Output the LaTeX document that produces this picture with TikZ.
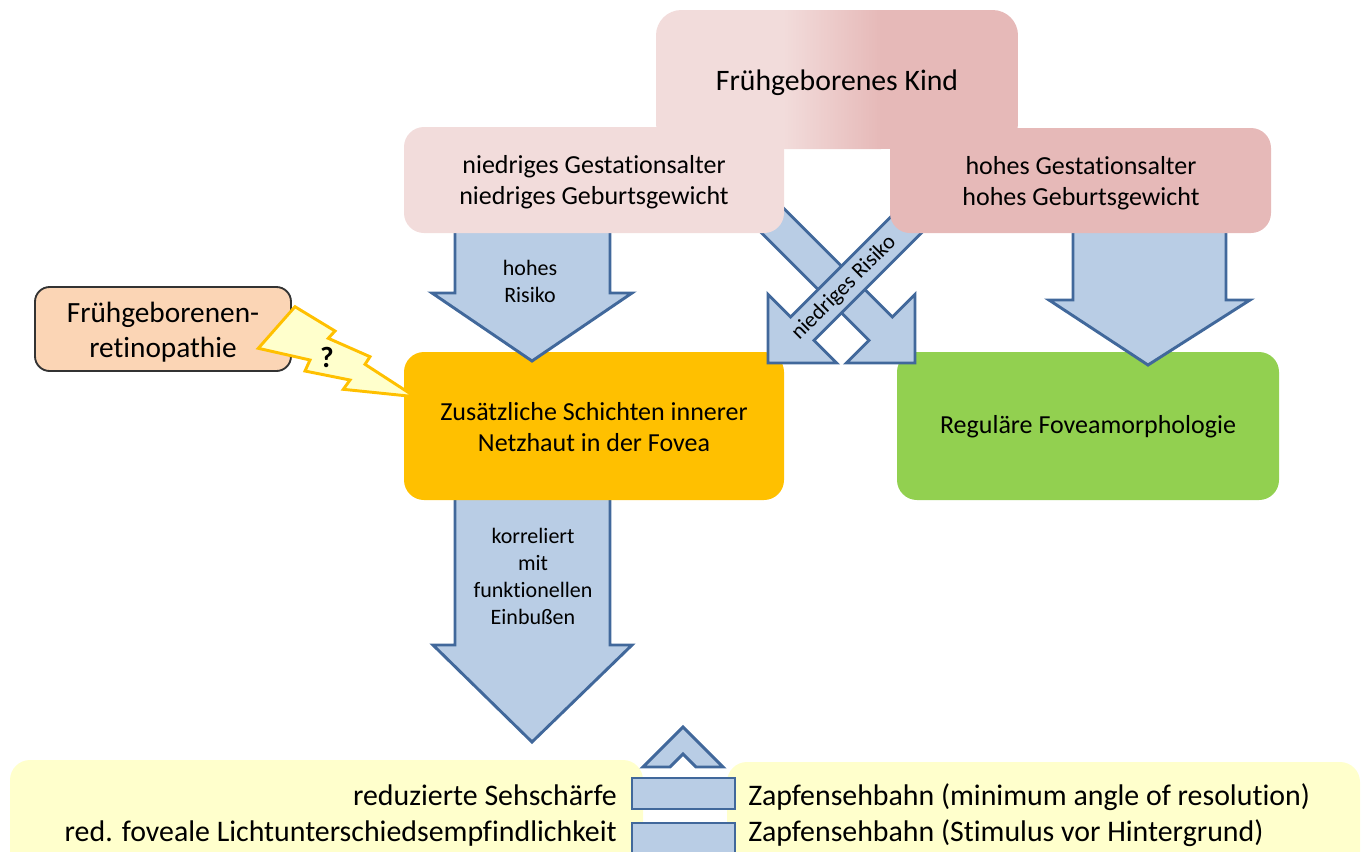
\documentclass[tikz,border=0pt]{standalone}
\usepackage{fontspec}
\setmainfont{Carlito}[Ligatures=NoCommon]
\usetikzlibrary{fit}
\definecolor{pinkL}{HTML}{F2DCDB}
\definecolor{pinkD}{HTML}{E6B9B8}
\definecolor{amber}{HTML}{FFC000}
\definecolor{leaf}{HTML}{92D050}
\definecolor{peach}{HTML}{FBD5B5}
\definecolor{paleyellow}{HTML}{FFFFCC}
\definecolor{arrowfill}{HTML}{B9CDE5}
\definecolor{arrowline}{HTML}{41689B}
\tikzset{
  blockarrow/.style={fill=arrowfill, draw=arrowline, line width=2.2pt, line join=miter},
  boxbase/.style={inner sep=0pt, rounded corners=15pt},
  fontTitle/.style={font=\fontsize{22.3}{26}\selectfont},
  fontMid/.style={font=\fontsize{19.5}{23.25}\selectfont},
  fontSmall/.style={font=\fontsize{16.5}{20.25}\selectfont},
  fontBig/.style={font=\fontsize{22}{26.25}\selectfont},
  fontPanel/.style={font=\fontsize{22.4}{27}\selectfont},
  panel/.style={inner sep=0pt, rounded corners=15pt, fill=paleyellow},
}
\begin{document}
\begin{tikzpicture}[x=0.75pt,y=-0.75pt]
\useasboundingbox (0,0) rectangle (1364,851);
\clip (0,0) rectangle (1364,851);

% arrow from the fovea box towards the functional findings (tail hidden below the box)
\draw[blockarrow] (455,492) -- (455,645) -- (433,645) -- (532,742) -- (632,645) -- (610,645) -- (610,492) -- cycle;

% outcome boxes
\node[fit={(404,352) (784,500)}, boxbase, fill=amber] (extra) {};
\node[fit={(897,352) (1279,500)}, boxbase, fill=leaf] (regular) {};
\node[fontMid, align=center] (extratext) at (594,427) {Zusätzliche Schichten innerer\\Netzhaut in der Fovea};
\node[fontMid] (regulartext) at (1088,427) {Reguläre Foveamorphologie};

% risk arrows
\draw[blockarrow] (455,225) -- (455,293) -- (432,293) -- (532,361) -- (632,293) -- (610,293) -- (610,225) -- cycle;
\draw[blockarrow] (1073,226) -- (1073,300) -- (1049,300) -- (1148,365) -- (1250,300) -- (1226,300) -- (1226,226) -- cycle;
\draw[blockarrow] (771.7,196.3) -- (892.4,317.0) -- (915,294.4) -- (915,363) -- (846.4,363) -- (869.0,340.4) -- (748.3,219.7) -- cycle;
\draw[blockarrow] (933.7,220.7) -- (814.0,340.4) -- (836.6,363) -- (768,363) -- (768,294.4) -- (790.6,317.0) -- (910.3,197.3) -- cycle;

\node[fontSmall, align=center] (hr) at (530,281) {hohes\\Risiko};
\node[fontSmall, align=center] (corr) at (533,576) {korreliert\\mit\\funktionellen\\Einbußen};
\node[fontSmall, rotate=45] (lr) at (844,288) {niedriges Risiko};

% top box with horizontal colour transition
\begin{scope}
  \clip[rounded corners=19pt] (656,10) rectangle (1018,149);
  \fill[pinkL] (656,10) rectangle (784,149);
  \shade[left color=pinkL, right color=pinkD] (783,10) rectangle (881,149);
  \fill[pinkD] (880,10) rectangle (1018,149);
\end{scope}
\node[fit={(656,10) (1018,149)}, inner sep=0pt] (kind) {};
\node[fontTitle] (kindtext) at (837,83) {Frühgeborenes Kind};

\node[fit={(404,127) (784,233)}, boxbase, fill=pinkL] (low) {};
\node[fit={(890,128) (1271,233)}, boxbase, fill=pinkD] (high) {};
\node[fontMid, align=center] (lowtext) at (594,182) {niedriges Gestationsalter\\niedriges Geburtsgewicht};
\node[fontMid, align=center] (hightext) at (1081,183) {hohes Gestationsalter\\hohes Geburtsgewicht};

% retinopathy box and lightning bolt
\node[fit={(35,287) (291,371)}, inner sep=0pt, rounded corners=11pt, fill=peach, draw=black!80, line width=1.4pt] (rop) {};
\node[fontBig, align=center] (roptext) at (163,332) {Frühgeborenen-\\retinopathie};
\draw[fill=paleyellow, draw=amber, line width=2.2pt, line join=miter]
  (258.3,348.3) -- (295,306.7) -- (335,331) -- (328.3,338.3) -- (370,356.7) -- (365,364.3)
  -- (415,396.7) -- (343.3,389.3) -- (350,380) -- (305,371) -- (310,360) -- cycle;
\node[font=\fontsize{22}{26}\bfseries\selectfont] (q) at (327,357) {?};

% functional findings
\node[fit={(10,760) (643,880)}, panel] (leftpanel) {};
\node[fit={(727,762) (1360,880)}, panel] (rightpanel) {};
\draw[blockarrow] (643,767) -- (683,727) -- (723,767) -- (696,767) -- (683,754) -- (670,767) -- cycle;
\draw[blockarrow] (632,778) rectangle (735,809);
\draw[blockarrow] (632,823) rectangle (735,870);

\node[fontPanel, inner sep=0pt, anchor=base east] (acuity) at (617,805) {reduzierte Sehschärfe};
\node[fontPanel, inner sep=0pt, anchor=base east] (contrast) at (617,841.5) {red. foveale Lichtunterschiedsempfindlichkeit};
\node[fontPanel, inner sep=0pt, anchor=base west] (mar) at (748,805) {Zapfensehbahn (minimum angle of resolution)};
\node[fontPanel, inner sep=0pt, anchor=base west] (svh) at (748,841.5) {Zapfensehbahn (Stimulus vor Hintergrund)};
\end{tikzpicture}
\end{document}
